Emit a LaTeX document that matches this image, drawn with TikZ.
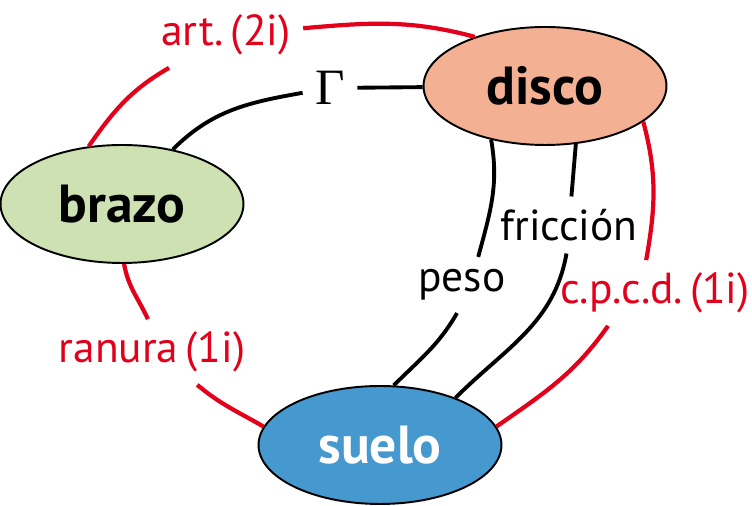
\documentclass[tikz,border=0pt]{standalone}
\usepackage{fontspec}
\setmainfont{PT Sans}
\newfontfamily\griega{Liberation Serif}
\definecolor{ENLrojo}{HTML}{E2001A}
\definecolor{ENLdisco}{HTML}{F4B093}
\definecolor{ENLbrazo}{HTML}{CDE1B2}
\definecolor{ENLsuelo}{HTML}{4599CF}
\usetikzlibrary{shapes.geometric}

\tikzset{
   cuerpo/.style={ellipse, draw, line width=1.1pt, minimum width=4.86cm,
      minimum height=2.36cm, inner sep=0pt, font=\bfseries\fontsize{30.5}{30.5}\selectfont},
   enlace/.style={ENLrojo, line width=2.4pt},
   accion/.style={black, line width=2.2pt},
   rotulo/.style={inner sep=7pt, font=\fontsize{24.7}{24.7}\selectfont}
}

\begin{document}
\begin{tikzpicture}[x=0.02cm, y=0.02cm]
      \useasboundingbox (0,0) rectangle (752,506);
      % Cuerpos
      \node[cuerpo, fill=ENLdisco] (disco) at (545,420) {disco};
      \node[cuerpo, fill=ENLbrazo] (brazo) at (122,302) {brazo};
      \node[cuerpo, fill=ENLsuelo, text=white] (suelo) at (380,61) {suelo};
      % Rotulos
      \node[rotulo, ENLrojo] (art) at (226,471) {art.\,(2i)};
      \node[rotulo, font=\griega\fontsize{29}{29}\selectfont] (gamma) at (330,418) {Γ};
      \node[rotulo] (peso) at (462,221) {peso};
      \node[rotulo] (friccion) at (569,281) {fricción};
      \node[rotulo, ENLrojo] (cpcd) at (655,213) {c.p.c.d.\,(1i)};
      \node[rotulo, ENLrojo] (ranura) at (152,154) {ranura\,(1i)};
      % art. (brazo-disco)
      \draw[enlace] (brazo.120) to[out=55, in=210] (art);
      \draw[enlace] (art) to[out=5, in=165] (disco.145);
      % Gamma
      \draw[accion] (brazo.47) to[out=45, in=190] (gamma);
      \draw[accion] (gamma) -- (disco);
      % peso
      \draw[accion] (disco.-135) to[out=-80, in=75] (peso.60);
      \draw[accion] (peso.-100) to[out=-120, in=45] (suelo.77);
      % friccion
      \draw[accion] (disco.-62) -- (friccion);
      \draw[accion] (friccion.-95) to[out=-100, in=45] (suelo.32);
      % c.p.c.d. (disco-suelo)
      \draw[enlace] (disco.-20) to[out=-75, in=80] (cpcd.105);
      \draw[enlace] (cpcd.-145) to[out=-125, in=35] (suelo.9);
      % ranura (brazo-suelo)
      \draw[enlace] (brazo.-88) to[out=-80, in=115] (ranura.97);
      \draw[enlace] (ranura.-36) to[out=-40, in=150] (suelo.171);
\end{tikzpicture}
\end{document}
